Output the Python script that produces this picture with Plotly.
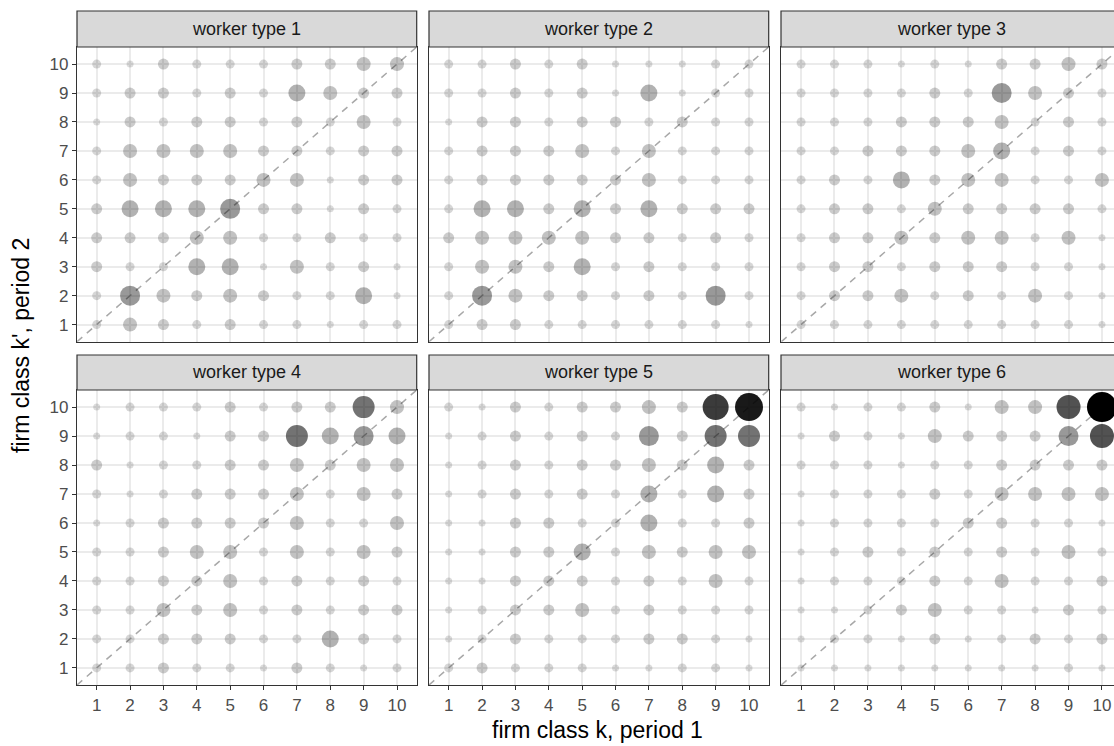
import plotly.graph_objects as go

firm_classes = [1, 2, 3, 4, 5, 6, 7, 8, 9, 10]
worker_types = ["worker type 1", "worker type 2", "worker type 3",
                "worker type 4", "worker type 5", "worker type 6"]

# transition intensity level per cell; rows listed from k'=10 (top) down to k'=1,
# columns k = 1..10
wt1 = [
    [2, 1, 3, 2, 2, 2, 3, 3, 4, 4],
    [2, 3, 3, 2, 3, 2, 5, 4, 3, 3],
    [1, 3, 2, 3, 3, 2, 3, 2, 4, 2],
    [2, 4, 4, 4, 4, 3, 3, 2, 3, 3],
    [2, 4, 3, 3, 3, 4, 4, 1, 3, 3],
    [3, 5, 5, 5, 6, 3, 3, 1, 3, 2],
    [3, 3, 3, 4, 4, 2, 2, 3, 2, 2],
    [3, 2, 2, 5, 5, 1, 4, 2, 3, 1],
    [2, 6, 4, 3, 4, 3, 2, 2, 5, 1],
    [2, 4, 3, 2, 3, 2, 2, 1, 2, 2],
]
wt2 = [
    [2, 2, 3, 2, 3, 1, 1, 1, 2, 2],
    [2, 2, 3, 2, 3, 1, 5, 1, 2, 2],
    [1, 3, 3, 2, 3, 3, 2, 3, 2, 2],
    [2, 3, 3, 3, 4, 2, 4, 2, 2, 2],
    [2, 3, 3, 3, 3, 3, 4, 2, 2, 2],
    [2, 5, 5, 3, 5, 3, 5, 3, 3, 3],
    [3, 4, 4, 4, 4, 3, 3, 2, 3, 2],
    [2, 4, 4, 3, 5, 2, 3, 2, 2, 2],
    [2, 6, 4, 3, 3, 2, 3, 2, 6, 2],
    [2, 3, 3, 2, 2, 2, 2, 2, 2, 1],
]
wt3 = [
    [2, 2, 2, 1, 2, 1, 3, 3, 4, 3],
    [2, 2, 2, 2, 3, 2, 6, 4, 3, 2],
    [2, 2, 2, 3, 3, 3, 4, 2, 3, 2],
    [2, 2, 3, 3, 3, 4, 5, 2, 3, 2],
    [2, 3, 2, 5, 3, 4, 4, 2, 2, 4],
    [2, 3, 3, 2, 4, 3, 3, 3, 3, 2],
    [2, 3, 3, 4, 3, 4, 4, 2, 4, 1],
    [2, 3, 3, 2, 3, 3, 3, 2, 2, 1],
    [2, 3, 3, 4, 2, 3, 2, 4, 2, 1],
    [2, 2, 2, 2, 2, 2, 2, 2, 2, 1],
]
wt4 = [
    [1, 2, 2, 2, 3, 2, 3, 3, 7, 4],
    [1, 2, 2, 1, 3, 3, 7, 5, 6, 5],
    [3, 1, 2, 2, 3, 3, 4, 3, 4, 4],
    [2, 1, 2, 3, 3, 3, 4, 2, 4, 3],
    [1, 2, 3, 3, 3, 3, 4, 2, 2, 4],
    [2, 2, 3, 4, 4, 2, 4, 2, 4, 3],
    [2, 2, 3, 3, 4, 2, 3, 2, 3, 2],
    [2, 2, 4, 3, 4, 2, 3, 2, 3, 3],
    [2, 2, 3, 3, 3, 2, 2, 5, 3, 2],
    [2, 2, 3, 2, 2, 1, 3, 2, 1, 2],
]
wt5 = [
    [2, 1, 3, 2, 3, 3, 4, 3, 9, 10],
    [1, 2, 3, 2, 3, 2, 6, 3, 7, 7],
    [1, 2, 3, 2, 3, 3, 4, 3, 5, 3],
    [1, 2, 3, 2, 3, 2, 5, 2, 5, 3],
    [1, 1, 3, 3, 2, 2, 5, 2, 2, 3],
    [1, 1, 3, 3, 5, 2, 4, 3, 4, 4],
    [1, 1, 3, 3, 3, 2, 3, 2, 4, 2],
    [1, 2, 3, 3, 4, 2, 3, 2, 2, 2],
    [1, 2, 3, 2, 2, 2, 3, 3, 2, 1],
    [2, 3, 2, 2, 2, 1, 1, 2, 2, 1],
]
wt6 = [
    [2, 1, 2, 2, 3, 1, 4, 4, 8, 11],
    [1, 3, 2, 1, 4, 3, 3, 3, 6, 8],
    [2, 2, 2, 1, 2, 2, 3, 3, 3, 3],
    [1, 2, 2, 2, 3, 2, 4, 4, 4, 4],
    [1, 2, 2, 2, 2, 3, 3, 2, 2, 1],
    [1, 2, 3, 2, 3, 2, 3, 2, 4, 2],
    [1, 2, 2, 2, 3, 2, 4, 2, 2, 3],
    [1, 1, 2, 3, 4, 2, 2, 1, 3, 2],
    [1, 2, 2, 1, 3, 1, 2, 3, 2, 3],
    [1, 1, 1, 1, 1, 1, 1, 1, 2, 1],
]
panels = [wt1, wt2, wt3, wt4, wt5, wt6]

# style mapping for levels (size in px, opacity)
size_of = {1: 7, 2: 9, 3: 11, 4: 14, 5: 17, 6: 20, 7: 22, 8: 24, 9: 26, 10: 28, 11: 30}
alpha_of = {1: 0.14, 2: 0.16, 3: 0.2, 4: 0.24, 5: 0.3, 6: 0.4, 7: 0.55,
            8: 0.68, 9: 0.77, 10: 0.9, 11: 1.0}

W, H = 1114, 746
col_px = [(77, 416.7), (429, 768.7), (781, 1114)]
row_px = [(47, 341.7), (390, 685)]
strip_px = [(11, 47), (355, 390)]
xr_full = [0.41, 10.59]
xr_cut = [0.40, 10.36]

FONT = "Liberation Sans, Arial, sans-serif"

fig = go.Figure()
layout = dict(
    width=W, height=H, margin=dict(l=0, r=0, t=0, b=0),
    plot_bgcolor="white", paper_bgcolor="white", showlegend=False,
    font=dict(family=FONT),
)
shapes = []
annotations = []

for i, grid in enumerate(panels):
    r, c = divmod(i, 3)
    n = i + 1
    xa = "x" if n == 1 else f"x{n}"
    ya = "y" if n == 1 else f"y{n}"
    xs, ys, ss, ops = [], [], [], []
    for ri, row in enumerate(grid):
        kp = firm_classes[len(firm_classes) - 1 - ri]
        for ci, lv in enumerate(row):
            xs.append(firm_classes[ci])
            ys.append(kp)
            ss.append(size_of[lv])
            ops.append(alpha_of[lv])
    # diagonal reference line (beneath the points)
    fig.add_trace(go.Scatter(
        x=[xr_full[0], xr_full[1]], y=[xr_full[0], xr_full[1]], mode="lines",
        xaxis=xa, yaxis=ya,
        line=dict(color="#a8a8a8", width=1.5, dash="7px,6px"),
        hoverinfo="skip",
    ))
    fig.add_trace(go.Scatter(
        x=xs, y=ys, mode="markers", xaxis=xa, yaxis=ya,
        marker=dict(color="black", size=ss, opacity=ops, line=dict(width=0)),
        hoverinfo="skip",
    ))
    x0, x1 = col_px[c]
    y0, y1 = row_px[r]
    xdom = [x0 / W, min(x1 / W, 1.0)]
    ydom = [1 - y1 / H, 1 - y0 / H]
    axis_common = dict(
        tickvals=firm_classes, showgrid=True, gridcolor="#ebebeb", gridwidth=1.6,
        zeroline=False, showline=True, linecolor="#333333", linewidth=1.2,
        tickfont=dict(size=17, color="#4d4d4d", family=FONT), tickcolor="#333333",
        ticklen=4, tickwidth=1.1,
    )
    xkey = "xaxis" if n == 1 else f"xaxis{n}"
    ykey = "yaxis" if n == 1 else f"yaxis{n}"
    layout[xkey] = dict(
        axis_common, domain=xdom, anchor=ya,
        range=xr_cut if c == 2 else xr_full,
        mirror=True,
        ticks="outside" if r == 1 else "",
        showticklabels=(r == 1),
    )
    layout[ykey] = dict(
        axis_common, domain=ydom, anchor=xa, range=xr_full,
        mirror=(c != 2),
        ticks="outside" if c == 0 else "",
        showticklabels=(c == 0),
    )
    # strip
    s0, s1 = strip_px[r]
    shapes.append(dict(
        type="rect", xref="paper", yref="paper",
        x0=x0 / W, x1=(x1 / W if c < 2 else 1.02),
        y0=1 - s1 / H, y1=1 - s0 / H,
        fillcolor="#d9d9d9", line=dict(color="#333333", width=1.2), layer="above",
    ))
    annotations.append(dict(
        text=worker_types[i], xref="paper", yref="paper",
        x=((x0 + (x1 if c < 2 else 1121)) / 2) / W, y=1 - ((s0 + s1) / 2) / H,
        showarrow=False, font=dict(size=18, color="#1a1a1a", family=FONT),
        xanchor="center", yanchor="middle",
    ))

annotations.append(dict(
    text="firm class k, period 1", xref="paper", yref="paper",
    x=597 / W, y=1 - 730 / H, showarrow=False,
    font=dict(size=23, color="black", family=FONT), xanchor="center", yanchor="middle",
))
annotations.append(dict(
    text="firm class k', period 2", xref="paper", yref="paper",
    x=21 / W, y=1 - 346 / H, showarrow=False, textangle=-90,
    font=dict(size=23, color="black", family=FONT), xanchor="center", yanchor="middle",
))

layout["shapes"] = shapes
layout["annotations"] = annotations
fig.update_layout(**layout)
fig.write_html("out.html")
